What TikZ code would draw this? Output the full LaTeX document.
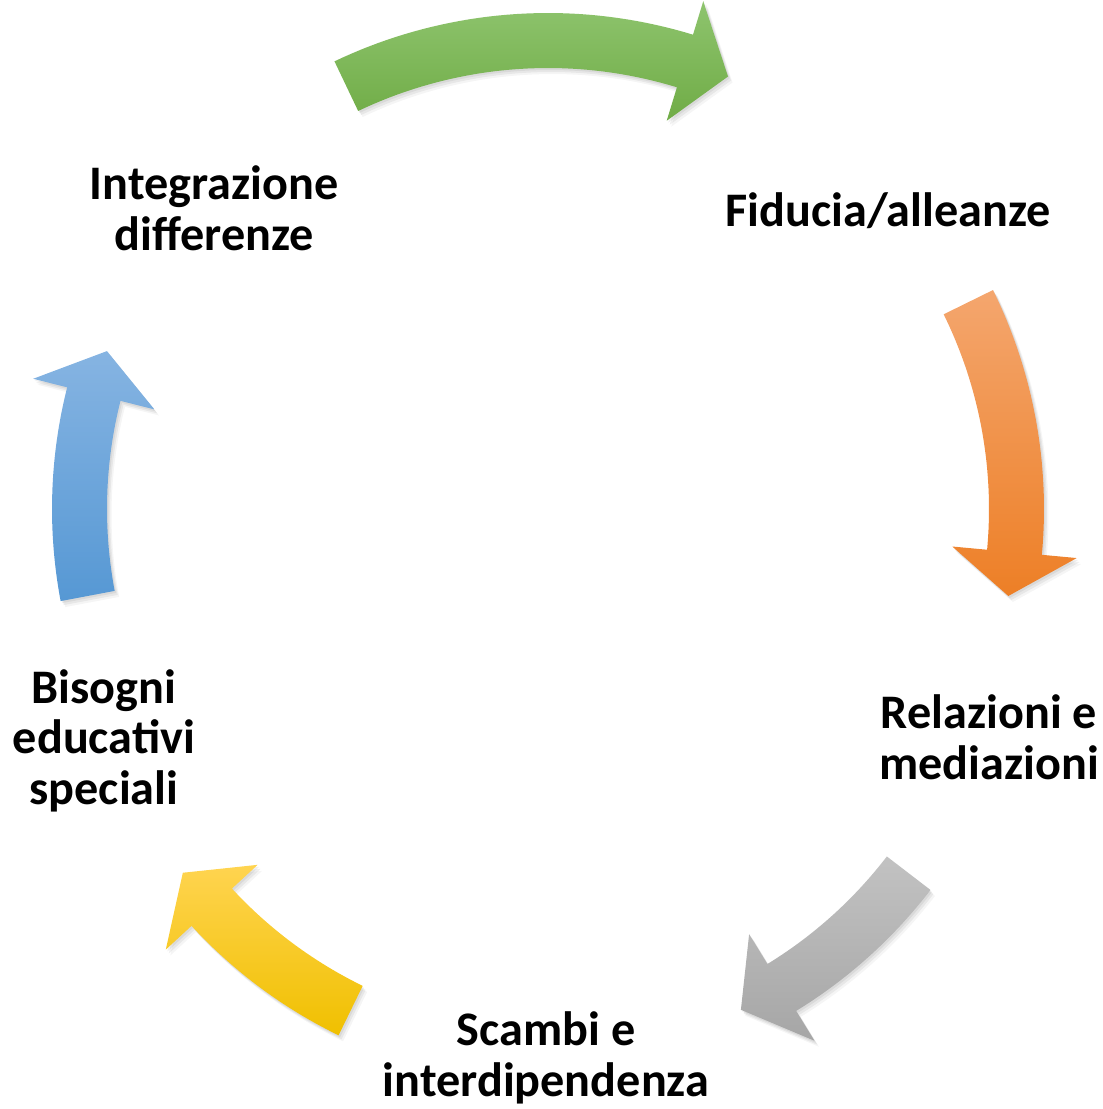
\documentclass[tikz,border=0pt]{standalone}
\usepackage{fontspec}
\setmainfont{Carlito}
\definecolor{gtop}{RGB}{142,196,110}
\definecolor{gbot}{RGB}{112,172,70}
\definecolor{otop}{RGB}{244,166,110}
\definecolor{obot}{RGB}{237,127,38}
\definecolor{stop}{RGB}{194,194,194}
\definecolor{sbot}{RGB}{166,166,166}
\definecolor{ytop}{RGB}{255,212,80}
\definecolor{ybot}{RGB}{240,192,0}
\definecolor{btop}{RGB}{134,180,226}
\definecolor{bbot}{RGB}{86,152,212}
\tikzset{
  lbl/.style={font=\fontsize{48.2}{50.5}\selectfont\bfseries, align=center, text=black, inner sep=0pt},
  arrowbody/.style={draw=none,
    preaction={fill=black,opacity=0.06,transform canvas={xshift=1.5pt,yshift=-2pt}},
    preaction={fill=black,opacity=0.06,transform canvas={xshift=3pt,yshift=-4pt}},
    preaction={fill=black,opacity=0.04,transform canvas={xshift=4.5pt,yshift=-6pt}}},
}
\def\ri{441}\def\ro{496}\def\rwi{406}\def\rwo{531}\def\rt{468.5}
% #1 cx, #2 cy, #3 tail angle, #4 head base angle, #5 tip angle, #6 top colour, #7 bottom colour
\newcommand{\cycarrow}[7]{%
  \path[arrowbody, top color=#6, bottom color=#7]
    plot[domain=#3:#4, samples=40] ({#1+\ro*cos(\x)},{#2+\ro*sin(\x)})
    -- ({#1+\rwo*cos(#4)},{#2+\rwo*sin(#4)})
    -- ({#1+\rt*cos(#5)},{#2+\rt*sin(#5)})
    -- ({#1+\rwi*cos(#4)},{#2+\rwi*sin(#4)})
    -- plot[domain=#4:#3, samples=40] ({#1+\ri*cos(\x)},{#2+\ri*sin(\x)})
    -- cycle;}
\begin{document}
\begin{tikzpicture}[x=1pt,y=-1pt]
\useasboundingbox (0,0) rectangle (1103,1109);
% arrows
\cycarrow{548}{509}{-115.5}{-73}{-67.4}{gtop}{gbot}
\cycarrow{548}{509}{-26.2}{5.3}{10.7}{otop}{obot}
\cycarrow{537}{588}{37.5}{58.5}{64.2}{stop}{sbot}
\cycarrow{556}{589.5}{116}{137.3}{142.8}{ytop}{ybot}
\cycarrow{548}{509}{169.3}{194.2}{199.7}{btop}{bbot}
% labels (base anchor = baseline of the last line)
\node[lbl, anchor=base] (integ) at (214,250) {Integrazione\\differenze};
\node[lbl, anchor=base] (fid) at (888,226) {Fiducia/alleanze};
\node[lbl, anchor=base] (rel) at (989,779) {Relazioni e\\mediazioni};
\node[lbl, anchor=base] (scam) at (546,1096) {Scambi e\\interdipendenza};
\node[lbl, anchor=base] (bis) at (104,804) {Bisogni\\educativi\\speciali};
\end{tikzpicture}
\end{document}
